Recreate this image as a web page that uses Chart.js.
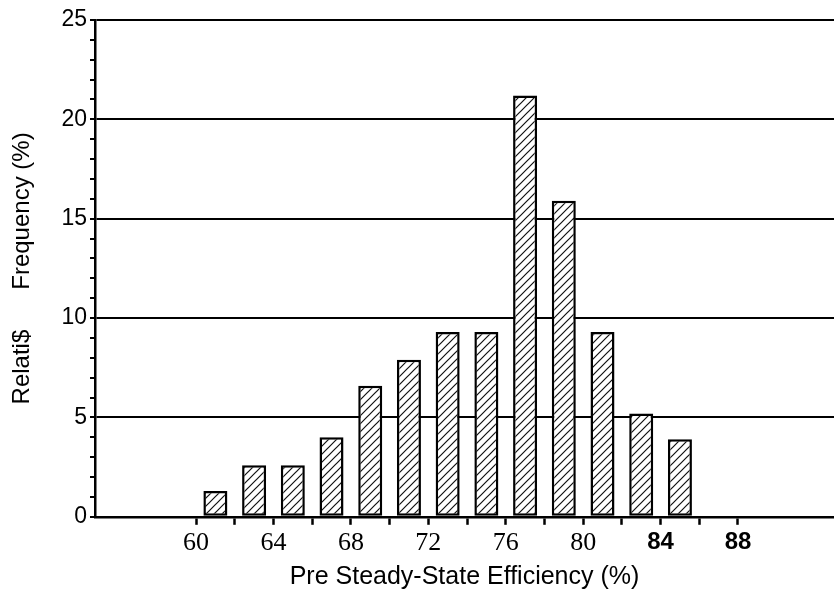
<!DOCTYPE html>
<html><head><meta charset="utf-8">
<script src="https://cdn.jsdelivr.net/npm/chart.js@4.4.1/dist/chart.umd.min.js"></script>
<style>html,body{margin:0;padding:0;background:#fff}#wrap{width:834px;height:594px}</style>
</head><body><div id="wrap"><canvas id="c" width="834" height="594"></canvas></div>
<script>
// ---- data ----
const binCenters = [61, 63, 65, 67, 69, 71, 73, 75, 77, 79, 81, 83, 85];
const frequencies = [1.3, 2.6, 2.6, 4.0, 6.6, 7.9, 9.3, 9.3, 21.2, 15.9, 9.3, 5.2, 3.9];
const xTickValues = [60, 62, 64, 66, 68, 70, 72, 74, 76, 78, 80, 82, 84, 86, 88];
const xTickLabels = ['60', '64', '68', '72', '76', '80', '84', '88'];
const yTickValues = [0,1,2,3,4,5,6,7,8,9,10,11,12,13,14,15,16,17,18,19,20,21,22,23,24,25];
const yTickLabels = ['0', '5', '10', '15', '20', '25'];
const xTitle = 'Pre Steady-State Efficiency (%)';
const yTitle = 'Relati$      Frequency (%)';
const boldXLabels = ['84', '88'];

function hatch() {
  const s = 8, c = document.createElement('canvas');
  c.width = s; c.height = s;
  const g = c.getContext('2d');
  g.fillStyle = '#fff'; g.fillRect(0, 0, s, s);
  g.strokeStyle = '#111'; g.lineWidth = 1.2;
  g.beginPath();
  g.moveTo(0, s); g.lineTo(s, 0);
  g.moveTo(-2, 2); g.lineTo(2, -2);
  g.moveTo(s - 2, s + 2); g.lineTo(s + 2, s - 2);
  g.stroke();
  return g.createPattern(c, 'repeat');
}

const points = binCenters.map((x, i) => ({ x: x, y: frequencies[i] }));

new Chart(document.getElementById('c'), {
  type: 'bar',
  data: {
    datasets: [{
      data: points,
      backgroundColor: hatch(),
      borderColor: '#000',
      borderWidth: 2.5,
      borderSkipped: false,
      barPercentage: 0.62,
      categoryPercentage: 1
    }]
  },
  options: {
    responsive: false,
    animation: false,
    layout: { padding: { top: 20, right: 0, bottom: 0, left: 0 } },
    plugins: { legend: { display: false }, tooltip: { enabled: false } },
    scales: {
      x: {
        type: 'linear',
        offset: false,
        min: 54.78,
        max: 92.96,
        afterBuildTicks: s => { s.ticks = xTickValues.map(v => ({ value: v })); },
        ticks: {
          autoSkip: false,
          maxRotation: 0,
          padding: 3,
          color: '#000',
          callback: v => xTickLabels.includes(String(v)) ? String(v) : '',
          font: ctx => {
            const v = ctx.tick ? String(ctx.tick.value) : '';
            return boldXLabels.includes(v)
              ? { family: 'Liberation Sans', size: 24, weight: 'bold' }
              : { family: 'Liberation Serif', size: 26 };
          }
        },
        grid: { offset: false, drawOnChartArea: false, drawTicks: true, tickLength: 8, tickColor: '#000', tickWidth: 2.5 },
        border: { display: true, color: '#000', width: 2.5 },
        title: {
          display: true, text: xTitle, color: '#000',
          font: { family: 'Liberation Sans', size: 25 },
          padding: { top: 0, bottom: 2 }
        }
      },
      y: {
        type: 'linear',
        min: 0,
        max: 25,
        afterBuildTicks: s => { s.ticks = yTickValues.map(v => ({ value: v })); },
        afterFit: s => { s.width = 95; },
        ticks: {
          autoSkip: false,
          padding: 3,
          color: '#000',
          font: { family: 'Liberation Sans', size: 23 },
          callback: v => yTickLabels.includes(String(v)) ? String(v) : ''
        },
        grid: {
          color: ctx => (ctx.tick && ctx.tick.value % 5 === 0) ? '#000' : 'rgba(0,0,0,0)',
          lineWidth: 2,
          drawTicks: true,
          tickLength: 5,
          tickColor: '#000',
          tickWidth: 2
        },
        border: { display: true, color: '#000', width: 2.5 },
        title: {
          display: true, text: yTitle, color: '#000',
          font: { family: 'Liberation Sans', size: 24 },
          padding: { top: 8, bottom: 0 }
        }
      }
    }
  }
});
</script>
</body></html>
